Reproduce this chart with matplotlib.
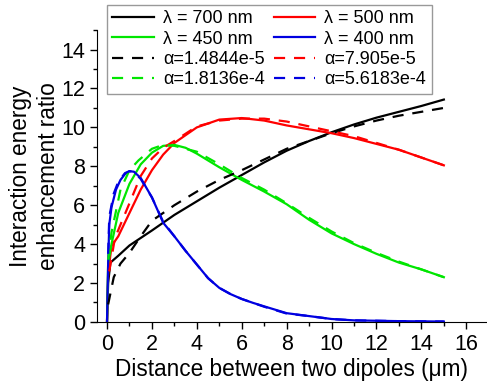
import matplotlib
matplotlib.use("Agg")
import matplotlib.pyplot as plt
from matplotlib.ticker import MultipleLocator

plt.rcParams["font.family"] = ["Liberation Sans", "DejaVu Sans"]

# ---------------------------------------------------------------------------
# Data (distance in um, enhancement ratio)
# ---------------------------------------------------------------------------
x_700 = [0, 0.05, 0.15, 0.5, 1, 2, 3, 4, 5, 6, 7, 8, 9, 10, 11, 12, 13, 14, 15]
y_700 = [0, 2.0, 3.05, 3.4, 3.93, 4.7, 5.5, 6.2, 6.9, 7.55, 8.2, 8.8, 9.3,
         9.75, 10.15, 10.5, 10.8, 11.1, 11.43]
x_700_fit = [0.05, 0.3, 0.6, 1, 1.5, 2, 3, 4, 5, 6, 7, 8, 9, 10, 11, 12, 13, 14, 15]
y_700_fit = [0.9, 2.3, 3.0, 3.55, 4.4, 5.2, 6.0, 6.7, 7.3, 7.8, 8.35, 8.9, 9.3,
             9.7, 10.05, 10.35, 10.6, 10.8, 11.0]

x_500 = [0, 0.05, 0.2, 0.5, 1, 1.5, 2, 2.5, 3, 4, 5, 6, 7, 8, 9, 10, 11, 12,
         13, 14, 15]
y_500 = [0, 2.5, 3.9, 4.4, 5.6, 6.8, 7.8, 8.6, 9.2, 10.0, 10.4, 10.48, 10.35,
         10.1, 9.9, 9.7, 9.45, 9.15, 8.85, 8.45, 8.05]
x_500_fit = [0.1, 0.35, 0.6, 1, 1.5, 2, 2.5, 3, 4, 5, 6, 7, 8, 9, 10, 11, 12,
             13, 14, 15]
y_500_fit = [2.6, 4.3, 5.0, 6.1, 7.5, 8.4, 8.95, 9.3, 10.05, 10.35, 10.45, 10.45,
             10.3, 10.05, 9.8, 9.55, 9.2, 8.85, 8.45, 8.05]

x_450 = [0, 0.05, 0.2, 0.5, 1, 1.5, 2, 2.5, 3, 3.5, 4, 5, 6, 7, 8, 9, 10, 11,
         12, 13, 14, 15]
y_450 = [0, 3.0, 4.0, 5.6, 7.1, 8.1, 8.7, 9.05, 9.1, 8.95, 8.65, 7.95, 7.3,
         6.7, 6.05, 5.25, 4.55, 4.0, 3.5, 3.05, 2.7, 2.3]
x_450_fit = [0.05, 0.2, 0.6, 1, 1.4, 2, 2.5, 3, 4, 5, 6, 7, 8, 9, 10, 11, 12,
             13, 14, 15]
y_450_fit = [3.2, 4.6, 6.8, 7.8, 8.3, 8.9, 9.1, 9.05, 8.75, 8.1, 7.4, 6.8, 6.1,
             5.35, 4.65, 4.05, 3.55, 3.1, 2.7, 2.3]

x_400 = [0, 0.05, 0.1, 0.2, 0.4, 0.6, 0.8, 1.0, 1.2, 1.5, 2, 2.5, 3, 3.5, 4,
         4.5, 5, 5.5, 6, 6.5, 7, 8, 9, 10, 11, 12, 13, 14, 15]
y_400 = [0, 3.0, 5.0, 5.9, 6.8, 7.3, 7.6, 7.75, 7.72, 7.4, 6.4, 5.1, 4.4,
         3.65, 2.95, 2.25, 1.75, 1.43, 1.18, 0.98, 0.8, 0.45, 0.3, 0.15, 0.08,
         0.06, 0.04, 0.03, 0.02]
x_400_fit = [0.05, 0.1, 0.3, 0.5, 0.8, 1.0, 1.2, 1.5, 2, 2.5, 3, 3.5, 4, 4.5,
             5, 5.5, 6, 6.5, 7, 8, 9, 10, 11, 12, 13, 14, 15]
y_400_fit = [3.5, 5.4, 6.6, 7.2, 7.65, 7.75, 7.7, 7.35, 6.4, 5.15, 4.4, 3.65,
             2.95, 2.25, 1.75, 1.43, 1.18, 0.98, 0.78, 0.43, 0.3, 0.15, 0.08,
             0.06, 0.04, 0.03, 0.02]

labels_lambda = ["λ = 700 nm", "λ = 500 nm", "λ = 450 nm", "λ = 400 nm"]
labels_alpha = ["α=1.4844e-5", "α=7.905e-5", "α=1.8136e-4", "α=5.6183e-4"]
colours = ["black", "#ff0000", "#00e600", "#0000e0"]

solid = [(x_700, y_700), (x_500, y_500), (x_450, y_450), (x_400, y_400)]
fits = [(x_700_fit, y_700_fit), (x_500_fit, y_500_fit),
        (x_450_fit, y_450_fit), (x_400_fit, y_400_fit)]

# ---------------------------------------------------------------------------
fig = plt.figure(figsize=(4.87, 3.86), dpi=100)
ax = fig.add_axes([0.199, 0.166, 0.80, 0.756])

h_solid, h_dash = [], []
for (xs, ys), c, lab in zip(solid, colours, labels_lambda):
    h, = ax.plot(xs, ys, color=c, lw=1.6, label=lab)
    h_solid.append(h)
for (xs, ys), c, lab in zip(fits, colours, labels_alpha):
    h, = ax.plot(xs, ys, color=c, lw=1.6, ls=(0, (5, 4)), label=lab)
    h_dash.append(h)

ax.set_xlim(-0.45, 16.9)
ax.set_ylim(0, 15)
ax.xaxis.set_major_locator(MultipleLocator(2))
ax.xaxis.set_minor_locator(MultipleLocator(1))
ax.yaxis.set_major_locator(MultipleLocator(2))
ax.yaxis.set_minor_locator(MultipleLocator(1))
ax.set_yticks(range(0, 15, 2))
ax.tick_params(which="major", direction="out", length=5, width=1, labelsize=15.5)
ax.tick_params(which="minor", direction="out", length=3, width=1)
ax.spines["top"].set_visible(False)
ax.spines["right"].set_visible(False)

ax.set_xlabel("Distance between two dipoles (μm)", fontsize=16.3, labelpad=2)
ax.set_ylabel("Interaction energy\nenhancement ratio", fontsize=16.3,
              linespacing=1.25, labelpad=1)

# legend rows: 700/500, 450/400, fits ... (filled column-wise)
order = [h_solid[0], h_solid[2], h_dash[0], h_dash[2],
         h_solid[1], h_solid[3], h_dash[1], h_dash[3]]
leg = ax.legend(handles=order, labels=[h.get_label() for h in order],
                ncol=2, loc="upper left", bbox_to_anchor=(0.026, 1.086),
                borderaxespad=0, fontsize=13, frameon=True, fancybox=False,
                framealpha=1, edgecolor="#999999", handlelength=2.3,
                handletextpad=0.5, columnspacing=0.5, labelspacing=0.18,
                borderpad=0.3)
leg.get_frame().set_linewidth(1)

fig.savefig("out.png", dpi=100)
